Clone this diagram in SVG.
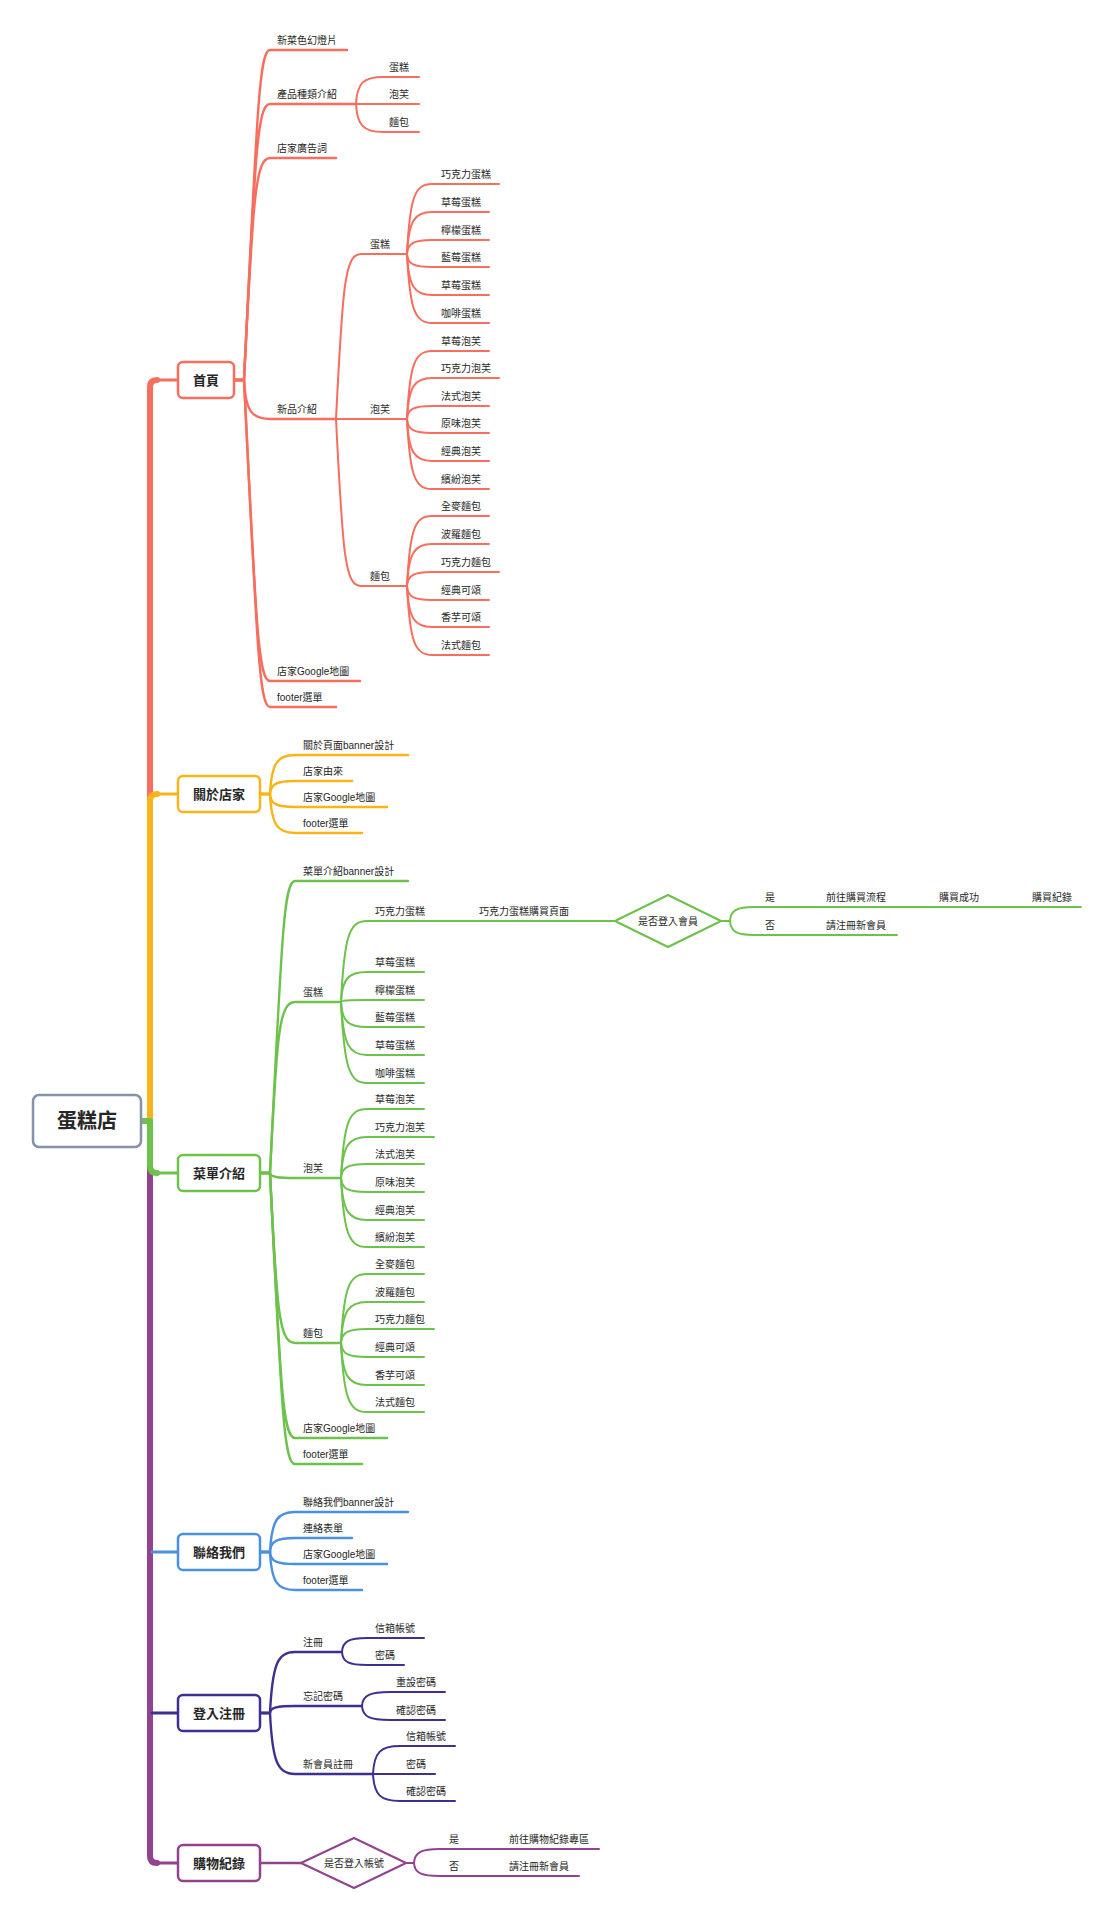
<svg xmlns="http://www.w3.org/2000/svg" width="1110" height="1920" viewBox="0 0 1110 1920">
<style>
text{font-family:"Liberation Sans","Noto Sans CJK TC",sans-serif;font-size:10px;fill:#262626}
.m{font-size:13px;font-weight:bold;text-anchor:middle}
.rt{font-size:20px;font-weight:bold;text-anchor:middle}
.c{text-anchor:middle}
path{fill:none;stroke-linecap:round;stroke-linejoin:round}
.sp{stroke-width:6}
.h{stroke-width:3}
.b2{stroke-width:2.4}
.b1{stroke-width:2}
.box{fill:#fff;stroke-width:2.5}
.r{stroke:#F76D5E}
.o{stroke:#F8B419}
.g{stroke:#6CC24A}
.bl{stroke:#4A90E2}
.in{stroke:#3E2F91}
.pu{stroke:#924390}
</style>
<rect width="1110" height="1920" fill="#fff"/>
<g id="connectors">
<path class="sp r" d="M141,1121 H150 V387 Q150,380 157,380"/><path class="h r" d="M155,380 H178"/>
<path class="sp pu" d="M141,1121 H150 V1856 Q150,1863 157,1863"/><path class="h pu" d="M155,1863 H178"/>
<path class="h in" d="M152,1713 H178"/>
<path class="h bl" d="M152,1552 H178"/>
<path class="sp o" d="M141,1121 H150 V801 Q150,794 157,794"/><path class="h o" d="M155,794 H178"/>
<path class="sp g" d="M141,1121 H150 V1166 Q150,1173 157,1173"/><path class="h g" d="M155,1173 H178"/>

<g class="r">
<path class="b2" d="M234,380 H244 C257,116 259,50 270,50 H347"/>
<path class="b2" d="M234,380 H244 C255,159 257,104 270,104 H356"/>
<path class="b2" d="M234,380 H244 C253,202 255,158 270,158 H336"/>
<path class="b2" d="M234,380 H244 C245.6,411 251.8,419 270,419 H336"/>
<path class="b2" d="M234,380 H244 C256,621 258,681 270,681 H360"/>
<path class="b2" d="M234,380 H244 C257,642 259,707 270,707 H336"/>
<path class="b1" d="M356,104 C357,82.4 364,77 383,77 H419"/>
<path class="b1" d="M356,104 H419"/>
<path class="b1" d="M356,104 C357,125.6 364,132 383,132 H419"/>
<path class="b1" d="M336,419 C342.6,287 344.6,254 361,254 H407"/>
<path class="b1" d="M336,419 H407"/>
<path class="b1" d="M336,419 C342.7,552.6 344.7,586 361,586 H407"/>
<path class="b1" d="M407,254 C409.8,198 414.5,184 432,184 H499"/>
<path class="b1" d="M407,254 C408.7,220.4 414.5,212 432,212 H489"/>
<path class="b1" d="M407,254 C407.6,242.8 414.5,240 432,240 H489"/>
<path class="b1" d="M407,254 C407.5,264.4 414.5,267 432,267 H489"/>
<path class="b1" d="M407,254 C408.6,286.8 414.5,295 432,295 H489"/>
<path class="b1" d="M407,254 C409.8,309.2 414.5,323 432,323 H489"/>
<path class="b1" d="M407,419 C409.7,364.6 414.5,351 432,351 H489"/>
<path class="b1" d="M407,419 C408.6,386.2 414.5,378 432,378 H499"/>
<path class="b1" d="M407,419 C407.5,408.6 414.5,406 432,406 H489"/>
<path class="b1" d="M407,419 C407.6,430.2 414.5,433 432,433 H489"/>
<path class="b1" d="M407,419 C408.7,452.6 414.5,461 432,461 H489"/>
<path class="b1" d="M407,419 C409.8,475 414.5,489 432,489 H489"/>
<path class="b1" d="M407,586 C409.8,530 414.5,516 432,516 H489"/>
<path class="b1" d="M407,586 C408.7,552.4 414.5,544 432,544 H489"/>
<path class="b1" d="M407,586 C407.6,574.8 414.5,572 432,572 H499"/>
<path class="b1" d="M407,586 C407.6,597.2 414.5,600 432,600 H489"/>
<path class="b1" d="M407,586 C408.6,618.8 414.5,627 432,627 H489"/>
<path class="b1" d="M407,586 C409.8,641.2 414.5,655 432,655 H489"/>
</g>

<g class="o">
<path class="b2" d="M260,794 H270 C271.6,762.8 277.5,755 295,755 H408"/>
<path class="b2" d="M260,794 H270 C270.5,783.6 277.5,781 295,781 H352"/>
<path class="b2" d="M260,794 H270 C270.5,804.4 277.5,807 295,807 H387"/>
<path class="b2" d="M260,794 H270 C271.6,825.2 277.5,833 295,833 H362"/>
</g>

<g class="g">
<path class="b2" d="M260,1173 H270 C281.7,939.4 283.7,881 295,881 H408"/>
<path class="b2" d="M260,1173 H270 C276.8,1036.2 278.8,1002 295,1002 H341"/>
<path class="b2" d="M260,1173 H270 C270.2,1177 277.5,1178 295,1178 H341"/>
<path class="b2" d="M260,1173 H270 C276.8,1309 278.8,1343 295,1343 H341"/>
<path class="b2" d="M260,1173 H270 C280.6,1385 282.6,1438 295,1438 H387"/>
<path class="b2" d="M260,1173 H270 C281.6,1405.8 283.6,1464 295,1464 H362"/>
<path class="b1" d="M341,1002 C344.2,937.2 348.8,921 367,921 H615"/>
<path class="b1" d="M341,1002 C342.2,978 348.8,972 367,972 H424"/>
<path class="b1" d="M341,1002 C341.1,1000.4 348.8,1000 367,1000 H424"/>
<path class="b1" d="M341,1002 C342,1022 348.8,1027 367,1027 H424"/>
<path class="b1" d="M341,1002 C343.1,1044.4 348.8,1055 367,1055 H424"/>
<path class="b1" d="M341,1002 C344.2,1066.8 348.8,1083 367,1083 H424"/>
<path class="b1" d="M341,1178 C343.8,1122.8 348.8,1109 367,1109 H424"/>
<path class="b1" d="M341,1178 C342.6,1145.2 348.8,1137 367,1137 H434"/>
<path class="b1" d="M341,1178 C341.6,1166.8 348.8,1164 367,1164 H424"/>
<path class="b1" d="M341,1178 C341.6,1189.2 348.8,1192 367,1192 H424"/>
<path class="b1" d="M341,1178 C342.7,1211.6 348.8,1220 367,1220 H424"/>
<path class="b1" d="M341,1178 C343.8,1233.2 348.8,1247 367,1247 H424"/>
<path class="b1" d="M341,1343 C343.8,1287.8 348.8,1274 367,1274 H424"/>
<path class="b1" d="M341,1343 C342.6,1310.2 348.8,1302 367,1302 H424"/>
<path class="b1" d="M341,1343 C341.6,1331.8 348.8,1329 367,1329 H434"/>
<path class="b1" d="M341,1343 C341.6,1354.2 348.8,1357 367,1357 H424"/>
<path class="b1" d="M341,1343 C342.7,1376.6 348.8,1385 367,1385 H424"/>
<path class="b1" d="M341,1343 C343.8,1398.2 348.8,1412 367,1412 H424"/>
<path class="b1" d="M721,921 H730 C730.6,909.8 737.2,907 754,907 H1081"/>
<path class="b1" d="M721,921 H730 C730.6,932.2 737.2,935 754,935 H897"/>
</g>

<g class="bl">
<path class="b2" d="M260,1552 H270 C271.6,1520 277.5,1512 295,1512 H408"/>
<path class="b2" d="M260,1552 H270 C270.6,1540.8 277.5,1538 295,1538 H352"/>
<path class="b2" d="M260,1552 H270 C270.5,1561.6 277.5,1564 295,1564 H387"/>
<path class="b2" d="M260,1552 H270 C271.5,1582.4 277.5,1590 295,1590 H362"/>
</g>

<g class="in">
<path class="b2" d="M260,1713 H270 C272.4,1664.2 277.5,1652 295,1652 H342"/>
<path class="b2" d="M260,1713 H270 C270.3,1707.4 277.5,1706 295,1706 H362"/>
<path class="b2" d="M260,1713 H270 C272.4,1761.8 277.5,1774 295,1774 H373"/>
<path class="b1" d="M342,1652 C342.6,1640.8 349.5,1638 367,1638 H424"/>
<path class="b1" d="M342,1652 C342.5,1662.4 349.5,1665 367,1665 H404"/>
<path class="b1" d="M362,1706 C362.6,1694.8 370.4,1692 390,1692 H445"/>
<path class="b1" d="M362,1706 C362.6,1717.2 370.4,1720 390,1720 H445"/>
<path class="b1" d="M373,1774 C374.1,1751.6 381,1746 400,1746 H455"/>
<path class="b1" d="M373,1774 H435"/>
<path class="b1" d="M373,1774 C374.1,1795.6 381,1801 400,1801 H455"/>
</g>

<g class="pu">
<path class="b2" d="M260,1863 H301"/>
<path class="b1" d="M406,1863 H414 C414.6,1851.8 421.8,1849 440,1849 H599"/>
<path class="b1" d="M406,1863 H414 C414.5,1873.4 421.8,1876 440,1876 H579"/>
</g>
</g>

<g id="root">
<rect class="box" x="33" y="1095" width="108" height="52" rx="6" stroke="#8592AA"/>
<text class="rt" x="87" y="1128">蛋糕店</text>
</g>

<g id="n-home"><rect class="box r" x="178" y="362" width="56" height="36" rx="5"/><text class="m" x="206" y="385">首頁</text></g>
<g id="n-about"><rect class="box o" x="178" y="776" width="82" height="36" rx="5"/><text class="m" x="219" y="799">關於店家</text></g>
<g id="n-menu"><rect class="box g" x="178" y="1155" width="82" height="36" rx="5"/><text class="m" x="219" y="1178">菜單介紹</text></g>
<g id="n-contact"><rect class="box bl" x="178" y="1534" width="82" height="36" rx="5"/><text class="m" x="219" y="1557">聯絡我們</text></g>
<g id="n-login"><rect class="box in" x="178" y="1695" width="82" height="36" rx="5"/><text class="m" x="219" y="1718">登入注冊</text></g>
<g id="n-orders"><rect class="box pu" x="178" y="1845" width="82" height="36" rx="5"/><text class="m" x="219" y="1868">購物紀錄</text></g>

<g id="n-home-slides"><text x="277" y="44">新菜色幻燈片</text></g>
<g id="n-home-types"><text x="277" y="98">產品種類介紹</text></g>
<g id="n-home-types-cake"><text x="389" y="71">蛋糕</text></g>
<g id="n-home-types-puff"><text x="389" y="98">泡芙</text></g>
<g id="n-home-types-bread"><text x="389" y="126">麵包</text></g>
<g id="n-home-ad"><text x="277" y="152">店家廣告詞</text></g>
<g id="n-home-new"><text x="277" y="413">新品介紹</text></g>
<g id="n-home-new-cake"><text x="370" y="248">蛋糕</text></g>
<g id="n-home-new-puff"><text x="370" y="413">泡芙</text></g>
<g id="n-home-new-bread"><text x="370" y="580">麵包</text></g>
<g id="n-home-cakes">
<text x="441" y="178">巧克力蛋糕</text>
<text x="441" y="206">草莓蛋糕</text>
<text x="441" y="234">檸檬蛋糕</text>
<text x="441" y="261">藍莓蛋糕</text>
<text x="441" y="289">草莓蛋糕</text>
<text x="441" y="317">咖啡蛋糕</text>
</g>
<g id="n-home-puffs">
<text x="441" y="345">草莓泡芙</text>
<text x="441" y="372">巧克力泡芙</text>
<text x="441" y="400">法式泡芙</text>
<text x="441" y="427">原味泡芙</text>
<text x="441" y="455">經典泡芙</text>
<text x="441" y="483">繽紛泡芙</text>
</g>
<g id="n-home-breads">
<text x="441" y="510">全麥麵包</text>
<text x="441" y="538">波羅麵包</text>
<text x="441" y="566">巧克力麵包</text>
<text x="441" y="594">經典可頌</text>
<text x="441" y="621">香芋可頌</text>
<text x="441" y="649">法式麵包</text>
</g>
<g id="n-home-map"><text x="277" y="675">店家Google地圖</text></g>
<g id="n-home-footer"><text x="277" y="701">footer選單</text></g>

<g id="n-about-banner"><text x="303" y="749">關於頁面banner設計</text></g>
<g id="n-about-story"><text x="303" y="775">店家由來</text></g>
<g id="n-about-map"><text x="303" y="801">店家Google地圖</text></g>
<g id="n-about-footer"><text x="303" y="827">footer選單</text></g>

<g id="n-menu-banner"><text x="303" y="875">菜單介紹banner設計</text></g>
<g id="n-menu-cake"><text x="303" y="996">蛋糕</text></g>
<g id="n-menu-puff"><text x="303" y="1172">泡芙</text></g>
<g id="n-menu-bread"><text x="303" y="1337">麵包</text></g>
<g id="n-menu-map"><text x="303" y="1432">店家Google地圖</text></g>
<g id="n-menu-footer"><text x="303" y="1458">footer選單</text></g>
<g id="n-menu-cakes">
<text x="375" y="915">巧克力蛋糕</text>
<text x="375" y="966">草莓蛋糕</text>
<text x="375" y="994">檸檬蛋糕</text>
<text x="375" y="1021">藍莓蛋糕</text>
<text x="375" y="1049">草莓蛋糕</text>
<text x="375" y="1077">咖啡蛋糕</text>
</g>
<g id="n-menu-buypage"><text x="479" y="915">巧克力蛋糕購買頁面</text></g>
<g id="n-menu-member"><path d="M615,921 L668,895 L721,921 L668,947 Z" fill="#fff" stroke="#6CC24A" stroke-width="2"/><text class="c" x="668" y="925">是否登入會員</text></g>
<g id="n-menu-yes"><text x="765" y="901">是</text></g>
<g id="n-menu-no"><text x="765" y="929">否</text></g>
<g id="n-menu-flow"><text x="826" y="901">前往購買流程</text></g>
<g id="n-menu-success"><text x="939" y="901">購買成功</text></g>
<g id="n-menu-record"><text x="1032" y="901">購買紀錄</text></g>
<g id="n-menu-register"><text x="826" y="929">請注冊新會員</text></g>
<g id="n-menu-puffs">
<text x="375" y="1103">草莓泡芙</text>
<text x="375" y="1131">巧克力泡芙</text>
<text x="375" y="1158">法式泡芙</text>
<text x="375" y="1186">原味泡芙</text>
<text x="375" y="1214">經典泡芙</text>
<text x="375" y="1241">繽紛泡芙</text>
</g>
<g id="n-menu-breads">
<text x="375" y="1268">全麥麵包</text>
<text x="375" y="1296">波羅麵包</text>
<text x="375" y="1323">巧克力麵包</text>
<text x="375" y="1351">經典可頌</text>
<text x="375" y="1379">香芋可頌</text>
<text x="375" y="1406">法式麵包</text>
</g>

<g id="n-contact-banner"><text x="303" y="1506">聯絡我們banner設計</text></g>
<g id="n-contact-form"><text x="303" y="1532">連絡表單</text></g>
<g id="n-contact-map"><text x="303" y="1558">店家Google地圖</text></g>
<g id="n-contact-footer"><text x="303" y="1584">footer選單</text></g>

<g id="n-login-reg"><text x="303" y="1646">注冊</text></g>
<g id="n-login-reg-email"><text x="375" y="1632">信箱帳號</text></g>
<g id="n-login-reg-pw"><text x="375" y="1659">密碼</text></g>
<g id="n-login-forgot"><text x="303" y="1700">忘記密碼</text></g>
<g id="n-login-reset"><text x="396" y="1686">重設密碼</text></g>
<g id="n-login-confirm"><text x="396" y="1714">確認密碼</text></g>
<g id="n-login-new"><text x="303" y="1768">新會員註冊</text></g>
<g id="n-login-new-email"><text x="406" y="1740">信箱帳號</text></g>
<g id="n-login-new-pw"><text x="406" y="1768">密碼</text></g>
<g id="n-login-new-confirm"><text x="406" y="1795">確認密碼</text></g>

<g id="n-orders-check"><path d="M301,1863 L354,1838 L406,1863 L354,1888 Z" fill="#fff" stroke="#924390" stroke-width="2"/><text class="c" x="354" y="1867">是否登入帳號</text></g>
<g id="n-orders-yes"><text x="449" y="1843">是</text></g>
<g id="n-orders-no"><text x="449" y="1870">否</text></g>
<g id="n-orders-go"><text x="509" y="1843">前往購物紀錄專區</text></g>
<g id="n-orders-register"><text x="509" y="1870">請注冊新會員</text></g>
</svg>
